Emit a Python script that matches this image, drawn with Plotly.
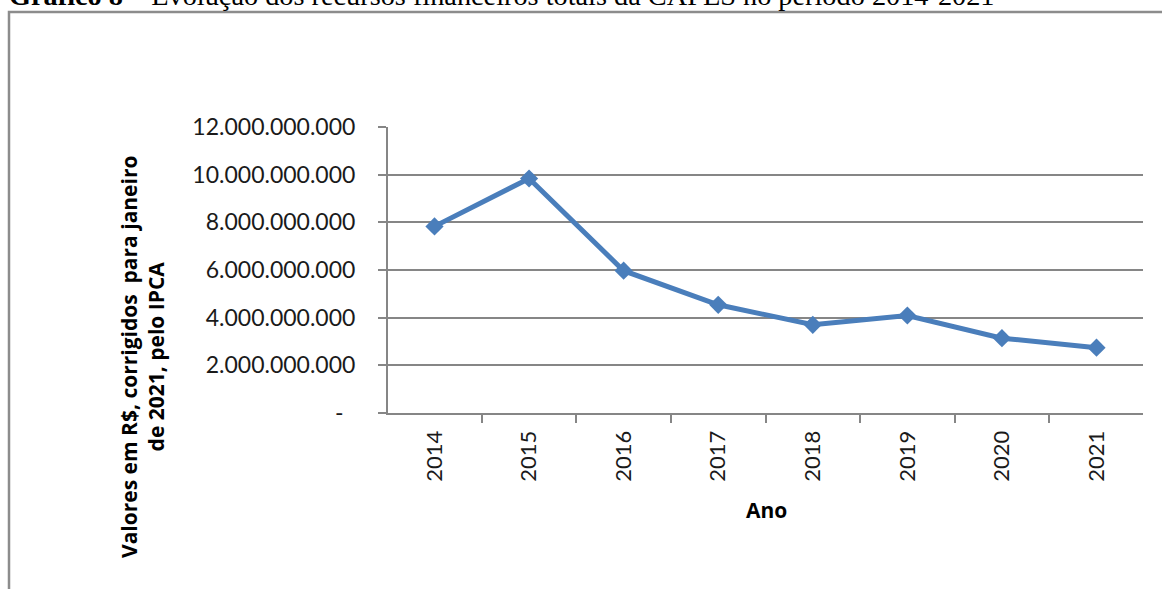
import plotly.graph_objects as go

# Recursos financeiros totais da CAPES (R$, corrigidos para jan/2021 pelo IPCA)
anos = ["2014", "2015", "2016", "2017", "2018", "2019", "2020", "2021"]
valores = [7.83e9, 9.84e9, 5.97e9, 4.54e9, 3.70e9, 4.09e9, 3.14e9, 2.74e9]

y_ticks = [0, 2e9, 4e9, 6e9, 8e9, 10e9, 12e9]
y_tick_text = ["-\u00a0\u00a0", "2.000.000.000", "4.000.000.000", "6.000.000.000",
               "8.000.000.000", "10.000.000.000", "12.000.000.000"]

titulo = "<b>Gráfico 8</b> – Evolução dos recursos financeiros totais da CAPES no período 2014-2021"
titulo_y = "Valores em R$, corrigidos  para janeiro<br>de 2021, pelo IPCA"
titulo_x = "Ano"

W, H = 1162, 589
ML, MR, MT, MB = 388, 19, 127, 176
PW, PH = W - ML - MR, H - MT - MB


def px_x(x):
    return (x - ML) / PW


def px_y(y):
    return (H - MB - y) / PH


AXIS = "#868686"
TICK_FONT = "Lato, 'Open Sans', sans-serif"
TITLE_FONT = "'Open Sans', Lato, sans-serif"

fig = go.Figure()
fig.add_trace(go.Scatter(
    x=anos, y=valores, mode="lines+markers",
    line=dict(color="#4a7ebb", width=5),
    marker=dict(symbol="diamond", size=14, color="#4a7ebb"),
    showlegend=False, hoverinfo="x+y",
))

fig.update_layout(
    width=W, height=H,
    margin=dict(l=ML, r=MR, t=MT, b=MB, autoexpand=False),
    paper_bgcolor="white", plot_bgcolor="white",
    font=dict(family=TICK_FONT, color="#1a1a1a"),
    xaxis=dict(
        type="category", tickson="boundaries", ticks="outside", ticklen=8,
        tickwidth=2, tickcolor=AXIS, showline=True, linecolor=AXIS, linewidth=2,
        showgrid=False, tickangle=-90, tickfont=dict(size=22, family=TICK_FONT),
        ticklabelstandoff=7, zeroline=False,
    ),
    yaxis=dict(
        range=[0, 12e9], tickvals=y_ticks, ticktext=y_tick_text,
        ticks="outside", ticklen=8, tickwidth=2, tickcolor=AXIS,
        showline=True, linecolor=AXIS, linewidth=2,
        showgrid=True, gridcolor=AXIS, gridwidth=2, zeroline=False,
        tickfont=dict(size=23, family=TICK_FONT), ticklabelstandoff=18,
    ),
    shapes=[
        # outer chart frame
        dict(type="rect", xref="paper", yref="paper",
             x0=px_x(9), x1=px_x(W + 20), y0=px_y(H + 20), y1=px_y(12),
             line=dict(color="#8c8c8c", width=2.5), fillcolor="rgba(0,0,0,0)",
             layer="below"),
    ],
    annotations=[
        dict(text=titulo, xref="paper", yref="paper", x=px_x(7), y=px_y(13),
             xanchor="left", yanchor="bottom", showarrow=False,
             font=dict(family="'Liberation Serif', serif", size=28.3, color="#000")),
        dict(text=titulo_y, xref="paper", yref="paper", x=px_x(142), y=px_y(357),
             xanchor="center", yanchor="middle", textangle=-90, showarrow=False,
             font=dict(family=TITLE_FONT, size=21, color="#000", weight="bold")),
        dict(text=titulo_x, xref="paper", yref="paper", x=px_x(766), y=px_y(510),
             xanchor="center", yanchor="middle", showarrow=False,
             font=dict(family=TITLE_FONT, size=21, color="#000", weight="bold")),
    ],
)

fig.write_html("out.html")
